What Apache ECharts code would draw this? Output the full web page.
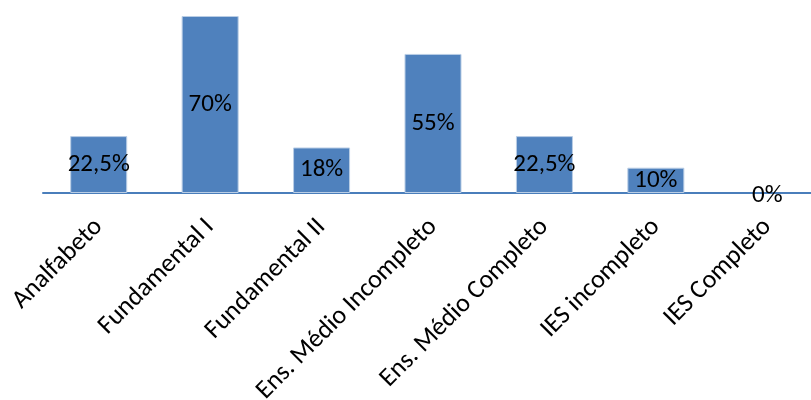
<!DOCTYPE html>
<html>
<head>
<meta charset="utf-8">
<script src="https://cdn.jsdelivr.net/npm/echarts@6/dist/echarts.min.js"></script>
<style>
  html, body { margin: 0; padding: 0; background: #ffffff; }
  #chart { width: 811px; height: 400px; }
</style>
</head>
<body>
<div id="chart"></div>
<script>
// Escolaridade: categories and percentages
const categories = [
  'Analfabeto',
  'Fundamental I',
  'Fundamental II',
  'Ens. Médio Incompleto',
  'Ens. Médio Completo',
  'IES incompleto',
  'IES Completo'
];
const values = [22.5, 70, 18, 55, 22.5, 10, 0];
const valueLabels = ['22,5%', '70%', '18%', '55%', '22,5%', '10%', '0%'];

const fontFamily = 'Carlito, Calibri, "Open Sans", "Liberation Sans", sans-serif';

// zero-height bars get no border so the axis line stays unbroken
const barData = values.map((v) => (
  v === 0
    ? { value: v, itemStyle: { borderWidth: 0 }, label: { offset: [0, 3] } }
    : { value: v }
));

const chart = echarts.init(document.getElementById('chart'), null, { renderer: 'canvas' });

chart.setOption({
  animation: false,
  backgroundColor: '#ffffff',
  grid: {
    left: 43, top: 16, width: 780, bottom: 207,
    containLabel: false,
    outerBoundsMode: 'none'
  },
  xAxis: {
    type: 'category',
    data: categories,
    axisLine: { show: true, lineStyle: { color: '#4a7ebb', width: 2 } },
    axisTick: { show: false },
    axisLabel: {
      rotate: 45,
      interval: 0,
      margin: 30,
      color: '#000000',
      fontSize: 26,
      fontFamily: fontFamily
    }
  },
  yAxis: {
    type: 'value',
    min: 0,
    max: 70,
    show: false,
    splitLine: { show: false }
  },
  series: [{
    type: 'bar',
    data: barData,
    barWidth: 57,
    z: 1,
    itemStyle: { color: '#4f81bd', borderColor: '#b9cde5', borderWidth: 1 },
    label: {
      show: true,
      position: 'inside',
      color: '#000000',
      fontSize: 25,
      fontFamily: fontFamily,
      formatter: (p) => valueLabels[p.dataIndex]
    }
  }]
});
</script>
</body>
</html>
